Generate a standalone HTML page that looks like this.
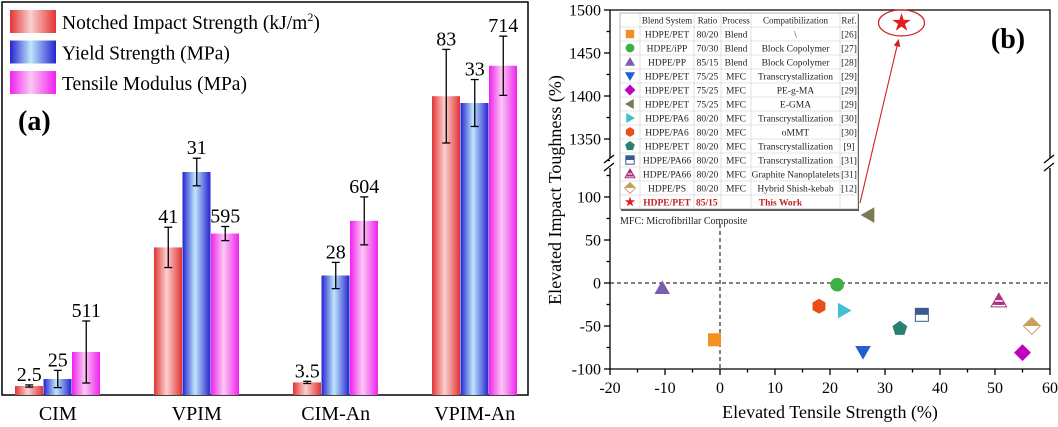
<!DOCTYPE html>
<html><head><meta charset="utf-8"><style>
html,body{margin:0;padding:0;background:#fff;}
svg, svg text{font-family:"Liberation Serif","Times New Roman",serif;}
</style></head><body>
<svg id="s" width="1058" height="422" viewBox="0 0 1058 422" xmlns="http://www.w3.org/2000/svg" font-family="Liberation Serif, serif">
<defs>
<linearGradient id="gR" x1="0" x2="1"><stop offset="0" stop-color="#e23434"/><stop offset="0.45" stop-color="#fbd0d0"/><stop offset="1" stop-color="#e23434"/></linearGradient>
<linearGradient id="gB" x1="0" x2="1"><stop offset="0" stop-color="#2323d0"/><stop offset="0.45" stop-color="#bfe6fb"/><stop offset="1" stop-color="#2323d0"/></linearGradient>
<linearGradient id="gM" x1="0" x2="1"><stop offset="0" stop-color="#ee22ee"/><stop offset="0.45" stop-color="#fbc8f3"/><stop offset="1" stop-color="#ee22ee"/></linearGradient>
<marker id="ah" markerWidth="8" markerHeight="8" refX="6" refY="3" orient="auto"><path d="M0,0 L7,3 L0,6 z" fill="#d02020"/></marker>
</defs>
<g id="pa"></g>
<g id="pb"></g>
</svg>
<script>
// ---------- Panel (a) data ----------
const categories = ["CIM","VPIM","CIM-An","VPIM-An"];
const impactValues = [2.5, 41, 3.5, 83];
const impactErr = [0.3, 5.6, 0.3, 13];
const yieldValues = [25, 31, 28, 33];
const yieldErr = [0.25, 0.4, 0.38, 0.68];
const modulusValues = [511, 595, 604, 714];
const modulusErr = [22, 5, 17, 21];
const impactLabels = ["2.5","41","3.5","83"];
const yieldLabels = ["25","31","28","33"];
const modulusLabels = ["511","595","604","714"];

// ---------- Panel (b) data ----------
const blendNames = ["HDPE/PET","HDPE/iPP","HDPE/PP","HDPE/PET","HDPE/PET","HDPE/PET","HDPE/PA6","HDPE/PA6","HDPE/PET","HDPE/PA66","HDPE/PA66","HDPE/PS","HDPE/PET"];
const ratios = ["80/20","70/30","85/15","75/25","75/25","75/25","80/20","80/20","80/20","80/20","80/20","80/20","85/15"];
const processes = ["Blend","Blend","Blend","MFC","MFC","MFC","MFC","MFC","MFC","MFC","MFC","MFC",""];
const compat = ["\\","Block Copolymer","Block Copolymer","Transcrystallization","PE-g-MA","E-GMA","Transcrystallization","oMMT","Transcrystallization","Transcrystallization","Graphite Nanoplatelets","Hybrid Shish-kebab","This Work"];
const refs = ["[26]","[27]","[28]","[29]","[29]","[29]","[30]","[30]","[9]","[31]","[31]","[12]",""];
const tensileX = [-1, 21.3, -10.5, 26, 55, 27, 22.5, 18, 32.7, 36.7, 50.7, 56.7, 33];
const toughY = [-66, -2, -6, -80, -81, 79, -32, -27, -53, -37, -21, -50, 1485];
const xTicks = [-20,-10,0,10,20,30,40,50,60];
const yTicksLow = [-100,-50,0,50,100];
const yTicksHigh = [1350,1400,1450,1500];

const NS="http://www.w3.org/2000/svg";
const FF='Liberation Serif, Times New Roman, serif';
function mk(parent,tag,attrs,text){const e=document.createElementNS(NS,tag);for(const k in attrs)e.setAttribute(k,attrs[k]);if(tag==='text')e.setAttribute('font-family',FF);if(text!==undefined)e.textContent=text;parent.appendChild(e);return e;}

// ----- Panel A -----
const pa=document.getElementById('pa');
let fr=mk(pa,'rect',{x:2,y:2,width:526,height:393,fill:'none',stroke:'#000','stroke-width':1.5});


const base=395;
const groupX=[15,154,293,432], bw=28.5;
const hR=v=>v*3.6, hB=v=>16+(v-25)*34.5, hM=v=>43+(v-511)*1.41;
const series=[
 {vals:impactValues,err:impactErr,lab:impactLabels,h:hR,f:'url(#gR)',n:'impact'},
 {vals:yieldValues,err:yieldErr,lab:yieldLabels,h:hB,f:'url(#gB)',n:'yield'},
 {vals:modulusValues,err:modulusErr,lab:modulusLabels,h:hM,f:'url(#gM)',n:'modulus'}];
series.forEach((s,si)=>{
 s.vals.forEach((v,i)=>{
  const x=groupX[i]+si*bw, top=base-s.h(v);
  const r=mk(pa,'rect',{x:x,y:top,width:bw-0.5,height:base-top,fill:s.f});
  
  
  const eh=s.h(v+s.err[i])-s.h(v);
  const cx=x+bw/2, y1=top-eh, y2=top+eh;
  const eg=mk(pa,'g',{stroke:'#000','stroke-width':1.3});
  
  
  mk(eg,'line',{x1:cx,x2:cx,y1:y1,y2:y2});
  mk(eg,'line',{x1:cx-4,x2:cx+4,y1:y1,y2:y1});
  mk(eg,'line',{x1:cx-4,x2:cx+4,y1:y2,y2:y2});
  const t=mk(pa,'text',{x:cx,y:y1-4,'text-anchor':'middle','font-size':20},s.lab[i]);
  
  
 });
});
categories.forEach((c,i)=>{
 const t=mk(pa,'text',{x:groupX[i]+bw*1.5,y:420,'text-anchor':'middle','font-size':20},c);
 
 
});
const legTxt=["Notched Impact Strength (kJ/m","Yield Strength (MPa)","Tensile Modulus (MPa)"];
const legFill=['url(#gR)','url(#gB)','url(#gM)'];
legTxt.forEach((t,i)=>{
 const y=10+i*30.5;
 const g=mk(pa,'g',{});
 
 
 mk(g,'rect',{x:10,y:y,width:46,height:23,fill:legFill[i]});
 const tx=mk(g,'text',{x:62,y:y+19,'font-size':19.5},t);
 if(i===0){mk(tx,'tspan',{'font-size':12,dy:-8},'2');mk(tx,'tspan',{dy:8},')');}
});
let la=mk(pa,'text',{x:18,y:130,'font-size':28,'font-weight':'bold'},'(a)');



// ----- Panel B -----
const pb=document.getElementById('pb');
const L=610,R=1050,T=10,B=369;
const sx=v=>L+(v+20)*5.5;
const sy=v=>v>=1000 ? T+(1500-v)*0.86 : 283-v*0.86;
const axg=mk(pb,'g',{stroke:'#000','stroke-width':1.3,fill:'none'});


mk(axg,'path',{d:`M${L},${T} L${R},${T} L${R},158 M${R},168 L${R},${B} L${L},${B} L${L},168 M${L},158 L${L},${T}`});
mk(axg,'path',{d:`M${L-6},163 L${L+4},155 M${L-6},171 L${L+4},163 M${R-6},163 L${R+4},155 M${R-6},171 L${R+4},163`});
xTicks.forEach(v=>{
 mk(axg,'line',{x1:sx(v),x2:sx(v),y1:B,y2:B+6});
 if(v<60)mk(axg,'line',{x1:sx(v+5),x2:sx(v+5),y1:B,y2:B+3.5});
 const t=mk(pb,'text',{x:sx(v),y:B+24,'text-anchor':'middle','font-size':16},String(v));
 
 
});
yTicksLow.concat(yTicksHigh).forEach(v=>{
 mk(axg,'line',{x1:L-6,x2:L,y1:sy(v),y2:sy(v)});
 if(v!==100 && v!==1500)mk(axg,'line',{x1:L-3.5,x2:L,y1:sy(v+25),y2:sy(v+25)});
 const t=mk(pb,'text',{x:L-9,y:sy(v)+5.5,'text-anchor':'end','font-size':16},String(v));
 
 
});
mk(axg,'line',{x1:L-3.5,x2:L,y1:sy(1325),y2:sy(1325)});
mk(axg,'line',{x1:L-3.5,x2:L,y1:sy(125),y2:sy(125)});
let d1=mk(pb,'line',{x1:L,x2:R,y1:sy(0),y2:sy(0),stroke:'#000','stroke-dasharray':'4,3','stroke-width':1});


let d2=mk(pb,'line',{x1:sx(0),x2:sx(0),y1:224,y2:B,stroke:'#000','stroke-dasharray':'4,3','stroke-width':1});


let xl=mk(pb,'text',{x:830,y:418,'text-anchor':'middle','font-size':18},'Elevated Tensile Strength (%)');


let yl=mk(pb,'text',{x:0,y:0,'text-anchor':'middle','font-size':18,transform:'translate(561,190) rotate(-90)'},'Elevated Impact Toughness (%)');


let lb=mk(pb,'text',{x:1008,y:48,'text-anchor':'middle','font-size':28,'font-weight':'bold'},'(b)');



const colors=['#f39020','#3cb043','#7a5cb0','#1f5fd0','#c000c0','#7a7a55','#40c0d0','#e8501a','#2a8070','#3a5a90','#b03080','#c8a060','#e02020'];
function marker(g,i,x,y,s){
 const c=colors[i];
 const poly=pts=>mk(g,'polygon',{points:pts.map(p=>(x+p[0]*s)+','+(y+p[1]*s)).join(' '),fill:c});
 switch(i){
  case 0: mk(g,'rect',{x:x-s,y:y-s,width:2*s,height:2*s,fill:c});break;
  case 1: mk(g,'circle',{cx:x,cy:y,r:s*1.05,fill:c});break;
  case 2: poly([[0,-1.2],[1.2,0.9],[-1.2,0.9]]);break;
  case 3: poly([[0,1.2],[1.2,-0.9],[-1.2,-0.9]]);break;
  case 4: poly([[0,-1.3],[1.3,0],[0,1.3],[-1.3,0]]);break;
  case 5: poly([[-1.2,0],[0.9,-1.2],[0.9,1.2]]);break;
  case 6: poly([[1.2,0],[-0.9,-1.2],[-0.9,1.2]]);break;
  case 7: {const p=[];for(let k=0;k<6;k++){const a=Math.PI/6+k*Math.PI/3;p.push([Math.cos(a)*1.15,Math.sin(a)*1.15]);}poly(p);break;}
  case 8: {const p=[];for(let k=0;k<5;k++){const a=-Math.PI/2+k*2*Math.PI/5;p.push([Math.cos(a)*1.2,Math.sin(a)*1.2]);}poly(p);break;}
  case 9: mk(g,'rect',{x:x-s,y:y-s,width:2*s,height:2*s,fill:'#fff',stroke:c,'stroke-width':1});mk(g,'rect',{x:x-s,y:y-s,width:2*s,height:s,fill:c});break;
  case 10: mk(g,'polygon',{points:`${x},${y-1.2*s} ${x+1.2*s},${y+0.9*s} ${x-1.2*s},${y+0.9*s}`,fill:'#fff',stroke:c,'stroke-width':1});mk(g,'polygon',{points:`${x},${y-1.2*s} ${x+0.6*s},${y-0.15*s} ${x-0.6*s},${y-0.15*s}`,fill:c});mk(g,'rect',{x:x-0.85*s,y:y+0.1*s,width:1.7*s,height:0.5*s,fill:c});break;
  case 11: mk(g,'polygon',{points:`${x},${y-1.3*s} ${x+1.3*s},${y} ${x},${y+1.3*s} ${x-1.3*s},${y}`,fill:'#fff',stroke:c,'stroke-width':1});mk(g,'polygon',{points:`${x},${y-1.3*s} ${x+1.3*s},${y} ${x-1.3*s},${y}`,fill:c});break;
  case 12: {const p=[];for(let k=0;k<10;k++){const a=-Math.PI/2+k*Math.PI/5,r=k%2?0.5:1.3;p.push([Math.cos(a)*r,Math.sin(a)*r]);}poly(p);break;}
 }
}
tensileX.forEach((v,i)=>{
 const g=mk(pb,'g',{});
 
 
 marker(g,i,sx(v),sy(toughY[i]),i===12?7.5:6.5);
});
const starX=sx(tensileX[12]), starY=sy(toughY[12]);
let el=mk(pb,'ellipse',{cx:starX,cy:starY,rx:23,ry:13,fill:'none',stroke:'#d02020','stroke-width':1.2});


let ar=mk(pb,'line',{x1:860,y1:203,x2:starX-3,y2:starY+17,stroke:'#d02020','stroke-width':1.1,'marker-end':'url(#ah)'});



const tg=mk(pb,'g',{});


const tx0=620, tx1=858, ty0=13, rh=14;
mk(tg,'rect',{x:tx0+1,y:ty0+1,width:tx1-tx0,height:rh*14+1,fill:'#555'});
mk(tg,'rect',{x:tx0,y:ty0,width:tx1-tx0,height:rh*14,fill:'#fff',stroke:'#888','stroke-width':0.6});
const colX=[620,640,694,721,751,840,858];
colX.slice(1,6).forEach(x=>mk(tg,'line',{x1:x,x2:x,y1:ty0,y2:ty0+rh*14,stroke:'#ccc','stroke-width':0.6}));
for(let r=1;r<14;r++)mk(tg,'line',{x1:tx0,x2:tx1,y1:ty0+r*rh,y2:ty0+r*rh,stroke:'#ccc','stroke-width':0.6});
const hdr=["","Blend System","Ratio","Process","Compatibilization","Ref."];
hdr.forEach((h,c)=>{ if(h) mk(tg,'text',{x:(colX[c]+colX[c+1])/2,y:ty0+10.5,'text-anchor':'middle','font-size':9,fill:'#222'},h);});
blendNames.forEach((b,i)=>{
 const y=ty0+(i+1)*rh, last=i===12;
 const row=mk(tg,'g',{});
 
 
 marker(row,i,630,y+7,4.2);
 const st=last?{fill:'#c02020','font-weight':'bold'}:{fill:'#222'};
 const cells=[b,ratios[i],processes[i],compat[i],refs[i]];
 cells.forEach((t,c)=>{
  const a=Object.assign({x:(colX[c+1]+colX[c+2])/2,y:y+10.5,'text-anchor':'middle','font-size':9.5},st);
  if(last&&c===1){a['text-anchor']='start';a.x=696;}
  if(last&&c===3){a.x=(721+840)/2;}
  mk(row,'text',a,t);
 });
});
let mfc=mk(pb,'text',{x:620,y:224,'font-size':10,fill:'#222'},'MFC: Microfibrillar Composite');


</script>
</body></html>
